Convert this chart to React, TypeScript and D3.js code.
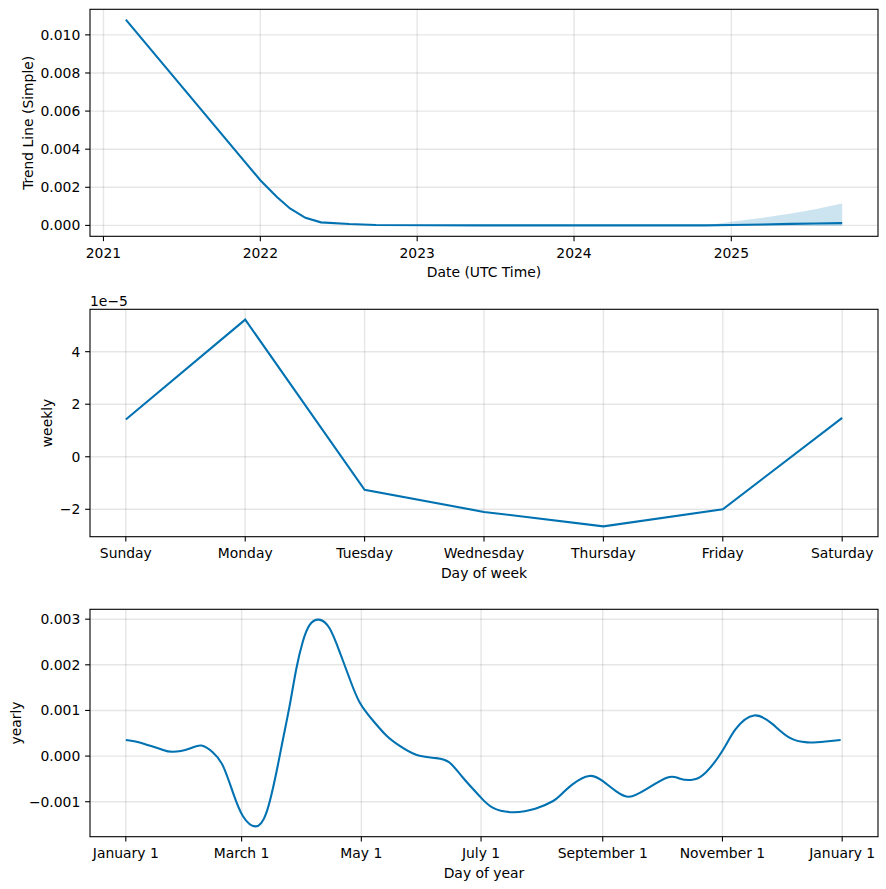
import React from "react";
import * as d3 from "d3";

// ---------- data ----------
const trendDates = [
  "2021-02-22", "2022-01-01", "2022-02-08", "2022-03-11", "2022-04-16",
  "2022-05-22", "2022-07-27", "2022-09-27", "2023-06-01", "2024-06-01",
  "2024-11-01", "2025-01-01", "2025-03-15", "2025-05-20", "2025-07-15", "2025-09-16",
];
const trendValues = [
  0.0108, 0.00237, 0.0015, 0.00089, 0.0004,
  0.00016, 0.00007, 0.00002, 0.0, 0.0,
  0.0, 0.00002, 0.00005, 0.00008, 0.0001, 0.00012,
];
const bandDates = ["2024-11-01", "2025-01-01", "2025-03-15", "2025-05-20", "2025-07-15", "2025-09-16"];
const bandLower = [0.0, -0.00001, -0.00002, -0.00002, -0.00003, -0.00003];
const bandUpper = [0.0, 0.00019, 0.0004, 0.00062, 0.00085, 0.00115];

const weekDays = ["Sunday", "Monday", "Tuesday", "Wednesday", "Thursday", "Friday", "Saturday"];
const weeklyValues = [1.42e-5, 5.22e-5, -1.26e-5, -2.1e-5, -2.65e-5, -2.0e-5, 1.48e-5];
const weeklyTicks = [-2e-5, 0, 2e-5, 4e-5];

const yearlyDays = [
  0, 6, 12, 18, 24, 32.6, 38.5, 44.4, 49.5, 54.6, 59.7, 66, 71.6, 76.7, 80.1, 83.5,
  86.9, 90.2, 93.6, 98.4, 103.8, 108.9, 114, 119.1, 125.9, 133, 139.4, 147.9, 158.1,
  164.9, 171.7, 180.2, 186.9, 197.1, 209, 217.5, 221, 227.6, 236.1, 242.9, 249.7,
  256.5, 265, 276, 282, 288.7, 295.5, 304, 310.8, 320.1, 329.4, 337.9, 347.2, 356.6, 364.2,
];
const yearlyValues = [
  0.353, 0.31, 0.232, 0.15, 0.095, 0.168, 0.23, 0.08, -0.214, -0.8, -1.317, -1.54, -1.244, -0.36, 0.375, 1.11,
  1.92, 2.51, 2.87, 2.99, 2.8, 2.29, 1.7, 1.18, 0.78, 0.44, 0.227, 0.03, -0.045,
  -0.14, -0.47, -0.876, -1.13, -1.23, -1.15, -0.99, -0.876, -0.62, -0.435, -0.545, -0.766,
  -0.89, -0.73, -0.47, -0.49, -0.52, -0.36, 0.117, 0.595, 0.89, 0.705, 0.41, 0.3, 0.32, 0.353,
].map((v) => v * 0.001);
const yearlyTickDays = [0, 59, 120, 181, 243, 304, 365];
const yearlyTickLabels = ["January 1", "March 1", "May 1", "July 1", "September 1", "November 1", "January 1"];
const yearlyTicks = [-0.001, 0, 0.001, 0.002, 0.003];
const trendTicks = [0, 0.002, 0.004, 0.006, 0.008, 0.01];

// ---------- layout ----------
const W = 886, H = 889;
const L = 90, R = 878;
const panels = [
  { top: 9.3, bottom: 236.3 },
  { top: 309.3, bottom: 536.7 },
  { top: 609.3, bottom: 836.7 },
];
const BLUE = "#0072B2";
const FONT = "DejaVu Sans, sans-serif";
const FS = 13.9;
const TICK = 4.86;

function pad(ext: [number, number]): [number, number] {
  const r = ext[1] - ext[0];
  return [ext[0] - 0.05 * r, ext[1] + 0.05 * r];
}

function Frame({ top, bottom }: { top: number; bottom: number }) {
  return <rect x={L} y={top} width={R - L} height={bottom - top} fill="none" stroke="#000" strokeWidth={1.1} />;
}

function XTicks({ xs, labels, top, bottom }: { xs: number[]; labels: string[]; top: number; bottom: number }) {
  return (
    <g>
      {xs.map((x, i) => (
        <g key={i}>
          <line x1={x} x2={x} y1={top} y2={bottom} stroke="gray" strokeOpacity={0.2} strokeWidth={1.4} />
          <line x1={x} x2={x} y1={bottom} y2={bottom + TICK} stroke="#000" strokeWidth={1.1} />
          <text x={x} y={bottom + 21.4} textAnchor="middle" fontFamily={FONT} fontSize={FS}>{labels[i]}</text>
        </g>
      ))}
    </g>
  );
}

function YTicks({ ys, labels }: { ys: number[]; labels: string[] }) {
  return (
    <g>
      {ys.map((y, i) => (
        <g key={i}>
          <line x1={L} x2={R} y1={y} y2={y} stroke="gray" strokeOpacity={0.2} strokeWidth={1.4} />
          <line x1={L - TICK} x2={L} y1={y} y2={y} stroke="#000" strokeWidth={1.1} />
          <text x={L - 9.7} y={y + 5} textAnchor="end" fontFamily={FONT} fontSize={FS}>{labels[i]}</text>
        </g>
      ))}
    </g>
  );
}

export default function App() {
  // ----- panel 1: trend -----
  const p1 = panels[0];
  const tDates = trendDates.map((d) => new Date(d + "T00:00:00Z"));
  const bDates = bandDates.map((d) => new Date(d + "T00:00:00Z"));
  const tExt = d3.extent(tDates.map((d) => d.getTime())) as [number, number];
  const x1 = d3.scaleUtc().domain(pad(tExt)).range([L, R]);
  const yAll = [...trendValues, ...bandLower, ...bandUpper];
  const y1 = d3.scaleLinear().domain(pad([d3.min(yAll)!, d3.max(yAll)!])).range([p1.bottom, p1.top]);
  const yearTicks = x1.ticks(d3.utcYear.every(1)!);
  const trendLine = d3.line<number>().x((_, i) => x1(tDates[i])).y((v) => y1(v))(trendValues)!;
  const band = d3
    .area<number>()
    .x((_, i) => x1(bDates[i]))
    .y0((_, i) => y1(bandLower[i]))
    .y1((v) => y1(v))(bandUpper)!;
  const f3 = d3.format(".3f");

  // ----- panel 2: weekly -----
  const p2 = panels[1];
  const x2 = d3.scaleLinear().domain(pad([0, 6])).range([L, R]);
  const y2 = d3
    .scaleLinear()
    .domain(pad([d3.min(weeklyValues)!, d3.max(weeklyValues)!]))
    .range([p2.bottom, p2.top]);
  const weeklyLine = d3.line<number>().x((_, i) => x2(i)).y((v) => y2(v))(weeklyValues)!;
  const fw = d3.format(".0f");

  // ----- panel 3: yearly -----
  const p3 = panels[2];
  const x3 = d3.scaleLinear().domain(pad([0, 365])).range([L, R]);
  const y3 = d3
    .scaleLinear()
    .domain(pad([d3.min(yearlyValues)!, d3.max(yearlyValues)!]))
    .range([p3.bottom, p3.top]);
  const yearlyLine = d3
    .line<number>()
    .x((_, i) => x3(yearlyDays[i]))
    .y((v) => y3(v))
    .curve(d3.curveNatural)(yearlyValues)!;

  return (
    <svg width={W} height={H} style={{ position: "absolute", left: 0, top: 0, background: "#fff" }}>
      <rect width={W} height={H} fill="#fff" />
      {/* Panel 1 */}
      <g>
        <XTicks xs={yearTicks.map((d) => x1(d))} labels={yearTicks.map((d) => String(d.getUTCFullYear()))} top={p1.top} bottom={p1.bottom} />
        <YTicks ys={trendTicks.map((v) => y1(v))} labels={trendTicks.map((v) => f3(v))} />
        <path d={band} fill={BLUE} fillOpacity={0.2} stroke="none" />
        <path d={trendLine} fill="none" stroke={BLUE} strokeWidth={2.08} />
        <Frame {...p1} />
        <text x={(L + R) / 2} y={p1.bottom + 41} textAnchor="middle" fontFamily={FONT} fontSize={FS}>Date (UTC Time)</text>
        <text transform={`translate(32.5,${(p1.top + p1.bottom) / 2}) rotate(-90)`} textAnchor="middle" fontFamily={FONT} fontSize={FS}>Trend Line (Simple)</text>
      </g>
      {/* Panel 2 */}
      <g>
        <XTicks xs={weekDays.map((_, i) => x2(i))} labels={weekDays} top={p2.top} bottom={p2.bottom} />
        <YTicks ys={weeklyTicks.map((v) => y2(v))} labels={weeklyTicks.map((v) => fw(v * 1e5))} />
        <path d={weeklyLine} fill="none" stroke={BLUE} strokeWidth={2.08} />
        <Frame {...p2} />
        <text x={L} y={p2.top - 3.5} fontFamily={FONT} fontSize={FS}>1e−5</text>
        <text x={(L + R) / 2} y={p2.bottom + 41} textAnchor="middle" fontFamily={FONT} fontSize={FS}>Day of week</text>
        <text transform={`translate(51.7,${(p2.top + p2.bottom) / 2}) rotate(-90)`} textAnchor="middle" fontFamily={FONT} fontSize={FS}>weekly</text>
      </g>
      {/* Panel 3 */}
      <g>
        <XTicks xs={yearlyTickDays.map((d) => x3(d))} labels={yearlyTickLabels} top={p3.top} bottom={p3.bottom} />
        <YTicks ys={yearlyTicks.map((v) => y3(v))} labels={yearlyTicks.map((v) => f3(v))} />
        <path d={yearlyLine} fill="none" stroke={BLUE} strokeWidth={2.08} />
        <Frame {...p3} />
        <text x={(L + R) / 2} y={p3.bottom + 41} textAnchor="middle" fontFamily={FONT} fontSize={FS}>Day of year</text>
        <text transform={`translate(20.7,${(p3.top + p3.bottom) / 2}) rotate(-90)`} textAnchor="middle" fontFamily={FONT} fontSize={FS}>yearly</text>
      </g>
    </svg>
  );
}
